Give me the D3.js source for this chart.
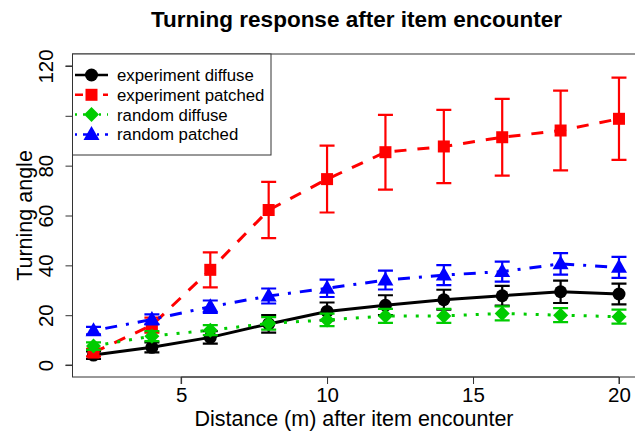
<!DOCTYPE html>
<html><head><meta charset="utf-8">
<script src="https://cdn.jsdelivr.net/npm/d3@7"></script>
<style>body{margin:0;background:#fff}svg{display:block}text{font-family:"Liberation Sans",Arial,sans-serif}</style>
</head><body><svg id="c" width="635" height="433"></svg>
<script>
const distances=[2,4,6,8,10,12,14,16,18,20];
const seriesNames=["experiment diffuse","experiment patched","random diffuse","random patched"];
const expDiffuse=[4,7.1,11.1,16.5,21.5,24,26.2,27.8,29.4,28.5];
const expDiffuseErr=[1.5,2,2.5,3.5,3.6,4,4,4,4.5,4.2];
const expPatched=[5,16,38.2,62.2,74.6,85.4,87.7,91.4,94.1,98.8];
const expPatchedErr=[1.5,3,7,11.3,13.4,15,14.7,15.4,16,16.5];
const randDiffuse=[7.6,11.6,14,16.7,18.1,19.7,19.7,20.7,20,19.4];
const randDiffuseErr=[1.5,2,2,2.5,2.5,2.8,2.8,2.8,2.8,2.8];
const randPatched=[13.8,18.3,23.4,27.7,30.8,34.1,36.1,37.5,40.6,39.2];
const randPatchedErr=[1.5,2,2.5,3,3.5,3.8,4,4,4.3,4.2];
const xTicks=[5,10,15,20];
const yTicks=[0,20,40,60,80,100,120];
const yTickLabels=["0","20","40","60","80","","120"];

const styles=[
 {color:"#000000",dash:null,shape:"circle"},
 {color:"#FF0000",dash:"12,11",shape:"square"},
 {color:"#00CC00",dash:"3,9",shape:"diamond"},
 {color:"#0000FF",dash:"3,9,12,9",shape:"triangle"}
];
const values=[expDiffuse,expPatched,randDiffuse,randPatched];
const errs=[expDiffuseErr,expPatchedErr,randDiffuseErr,randPatchedErr];

const svg=d3.select("#c");
const x=d3.scaleLinear().domain([1.28,20.72]).range([72.5,640]);
const y=d3.scaleLinear().domain([-4.8,124.8]).range([377,54]);

svg.append("rect").attr("x",72.5).attr("y",54).attr("width",640-72.5).attr("height",377-54)
  .attr("fill","none").attr("stroke","#333").attr("stroke-width",1);

const xAx=svg.append("g").attr("transform","translate(0,377)")
  .call(d3.axisBottom(x).tickValues(xTicks).tickSize(7).tickPadding(3).tickFormat(d3.format("d")));
const yAx=svg.append("g").attr("transform","translate(72.5,0)")
  .call(d3.axisLeft(y).tickValues(yTicks).tickSize(7).tickPadding(4).tickFormat((d,i)=>yTickLabels[i]));
[xAx,yAx].forEach(g=>{g.select(".domain").attr("stroke","#333");g.selectAll(".tick line").attr("stroke","#333");
  g.selectAll("text").attr("font-size",20.5).attr("fill","#000").attr("font-family","Liberation Sans, Arial, sans-serif");});
xAx.select(".domain").attr("d",`M${x(5)},7V0H${x(20)}V7`);
yAx.select(".domain").attr("d",`M-7,${y(0)}H0V${y(120)}H-7`);
yAx.selectAll(".tick text").attr("text-anchor","middle").attr("dy",0)
  .attr("transform","translate(-19.5,0) rotate(-90)").attr("x",0).attr("y",0);

svg.append("text").attr("x",356.5).attr("y",27).attr("text-anchor","middle").attr("font-size",22.5).attr("font-weight","bold")
  .text("Turning response after item encounter");
svg.append("text").attr("x",354).attr("y",426).attr("text-anchor","middle").attr("font-size",21.5)
  .text("Distance (m) after item encounter");
svg.append("text").attr("transform","translate(32,215.5) rotate(-90)").attr("text-anchor","middle").attr("font-size",21.5)
  .text("Turning angle");

function marker(g,shape,color,cx,cy){
  if(shape==="circle") g.append("circle").attr("cx",cx).attr("cy",cy).attr("r",6.5).attr("fill",color);
  else if(shape==="square") g.append("rect").attr("x",cx-6).attr("y",cy-6).attr("width",12).attr("height",12).attr("fill",color);
  else if(shape==="diamond") g.append("path").attr("d",`M${cx},${cy-7.5}L${cx+7.5},${cy}L${cx},${cy+7.5}L${cx-7.5},${cy}Z`).attr("fill",color);
  else g.append("path").attr("d",`M${cx},${cy-8.5}L${cx+8},${cy+5.5}L${cx-8},${cy+5.5}Z`).attr("fill",color);
}

const line=d3.line().x((d,i)=>x(distances[i])).y(d=>y(d));
values.forEach((vals,k)=>{
  const st=styles[k];
  const g=svg.append("g");
  g.append("path").attr("d",line(vals)).attr("fill","none").attr("stroke",st.color).attr("stroke-width",3)
    .attr("stroke-dasharray",st.dash);
  vals.forEach((v,i)=>{
    const cx=x(distances[i]),e=errs[k][i];
    const t=y(v+e),b=y(v-e);
    g.append("path").attr("d",`M${cx},${t}V${b}M${cx-7.5},${t}H${cx+7.5}M${cx-7.5},${b}H${cx+7.5}`)
      .attr("stroke",st.color).attr("stroke-width",2.2).attr("fill","none");
    marker(g,st.shape,st.color,cx,y(v));
  });
});

const lg=svg.append("g");
lg.append("rect").attr("x",72.5).attr("y",54).attr("width",198.5).attr("height",101).attr("fill","#fff").attr("stroke","#333");
seriesNames.forEach((n,k)=>{
  const st=styles[k],ly=75+k*19.8;
  lg.append("line").attr("x1",75).attr("x2",108).attr("y1",ly).attr("y2",ly).attr("stroke",st.color).attr("stroke-width",2.5)
    .attr("stroke-dasharray",st.dash?(k===1?"8,6":k===2?"2,6":"2,6,8,6"):null);
  marker(lg,st.shape,st.color,91.5,ly);
  lg.append("text").attr("x",117).attr("y",ly+6).attr("font-size",16.8).text(n);
});
</script></body></html>
